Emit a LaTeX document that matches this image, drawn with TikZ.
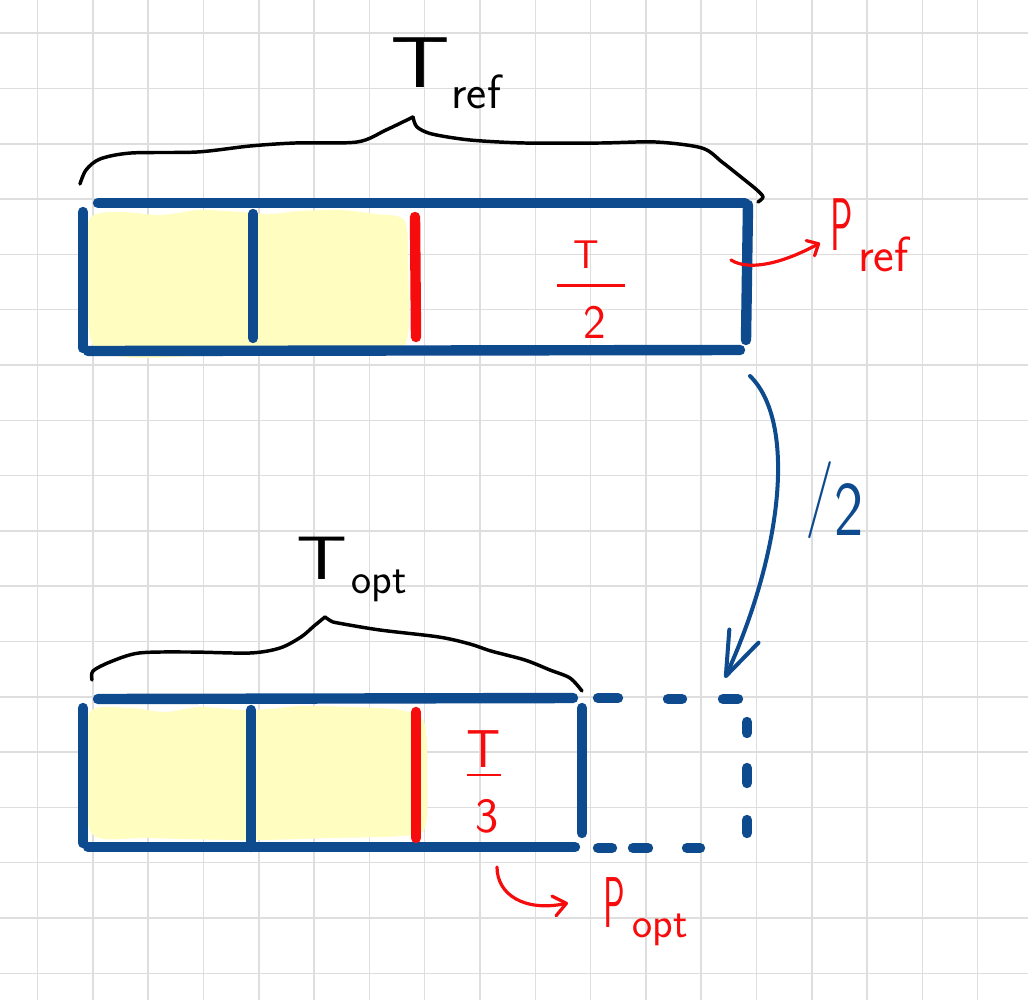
\documentclass[tikz,border=0pt]{standalone}
\usepackage{graphicx}
\usetikzlibrary{arrows.meta}
\definecolor{boxblue}{RGB}{13,74,142}
\definecolor{penred}{RGB}{246,12,12}
\definecolor{hilite}{RGB}{255,253,192}
\definecolor{gridgray}{RGB}{222,222,222}
\begin{document}
\begin{tikzpicture}[x=0.75pt,y=-0.75pt,
  gridline/.style={draw=gridgray,line width=1.1pt},
  boxline/.style={draw=boxblue,line width=7.8pt,line cap=round},
  divred/.style={draw=penred,line width=7.8pt,line cap=round},
  brace/.style={draw=black,line width=2.6pt,line cap=round,line join=round},
  hand/.style={font=\sffamily,inner sep=0pt},
  redarrow/.style={draw=penred,line width=2.4pt,line cap=round,line join=round},
  bluearrow/.style={draw=boxblue,line width=3pt,line cap=round,line join=round},
  highlight/.style={fill=hilite,draw=none}]
\fill[white] (0,0) rectangle (1028,1000);
\useasboundingbox (0,0) rectangle (1028,1000);
% grid
\foreach \i in {0,...,17} {
  \draw[gridline] ({37.6+55.3*\i},0) -- ({37.6+55.3*\i},1000);
  \draw[gridline] (0,{33.2+55.3*\i}) -- (1028,{33.2+55.3*\i});
}
% yellow highlights
\fill[highlight] plot[smooth cycle, tension=0.5] coordinates {
  (90,218) (120,212) (160,215) (200,210) (240,212) (270,214) (300,211) (340,210)
  (375,214) (404,220) (408,260) (407,340) (380,352) (300,354) (200,356) (140,358) (100,352) (89,330) (88,260)};
\fill[highlight] plot[smooth cycle, tension=0.5] coordinates {
  (90,712) (130,708) (165,712) (200,707) (240,710) (270,709) (300,706) (350,707)
  (400,710) (424,722) (427,770) (425,828) (400,836) (330,838) (250,840) (150,838) (92,834) (88,770)};
% top box
\draw[boxline] (98,203) -- (745,203);
\draw[boxline] (748,205) -- (746,340);
\draw[boxline] (88,351) -- (740,350);
\draw[boxline] (83,212) -- (83,348);
\draw[boxline] (253,214) -- (253,338);
\draw[divred] (415,217) -- (416,337);
% bottom box
\draw[boxline] (98,699) -- (573,698);
\draw[boxline] (83,708) -- (83,843);
\draw[boxline] (88,847) -- (575,847);
\draw[boxline] (582,708) -- (582,833);
\draw[boxline] (251,710) -- (251,847);
\draw[divred] (416,712) -- (416,838);
% dashed extension
\draw[boxline] (598,698) -- (618,698) (668,699) -- (682,699) (723,699) -- (738,699)
  (747,722) -- (747,733) (747,768) -- (747,783) (747,820) -- (747,833)
  (598,848) -- (612,848) (633,848) -- (648,848) (687,848) -- (700,848);
% braces
\draw[brace] plot[smooth, tension=0.5] coordinates {
  (80,184) (86,170) (100,159) (131,153) (197,152) (250,146) (295,143) (357,142) (386,130) (413,117)};
\draw[brace] plot[smooth, tension=0.5] coordinates {
  (413,117) (417,127) (432,134) (470,140) (525,143) (600,143) (656,142) (702,148) (722,162) (741,177) (757,190) (763,197) (758,202)};
\draw[brace] plot[smooth, tension=0.5] coordinates {
  (92,680) (93,671) (110,662) (139,653) (190,652) (250,653) (280,648) (301,637) (314,626) (325,617)};
\draw[brace] plot[smooth, tension=0.5] coordinates {
  (325,617) (331,621) (338,623) (380,630) (439,637) (470,644) (491,651) (525,660) (550,670) (570,678) (582,691)};
% labels
\node[hand, anchor=base west] (tref) at (390,87)
  {\fontsize{54}{54}\selectfont\scalebox{1.3}[1]{T}\hspace{1pt}\raisebox{-16pt}{\fontsize{36}{36}\selectfont ref}};
\node[hand, anchor=base west] (topt) at (296,579)
  {\fontsize{46}{46}\selectfont\scalebox{1.3}[1]{T}\hspace{3pt}\raisebox{-11pt}{\fontsize{32}{32}\selectfont opt}};
\node[hand, text=penred, anchor=base west] (pref) at (830,250)
  {\fontsize{56}{56}\selectfont\scalebox{0.5}[1]{P}\hspace{4pt}\raisebox{-16pt}{\fontsize{37}{37}\selectfont ref}};
\node[hand, text=penred, anchor=base west] (popt) at (603,927)
  {\fontsize{54}{54}\selectfont\scalebox{0.5}[1]{P}\hspace{6pt}\raisebox{-8pt}{\fontsize{32}{32}\selectfont opt}};
\node[hand, text=penred, anchor=north] (half) at (591,241)
  {\fontsize{30}{30}\selectfont\vbox{\offinterlineskip
    \hbox to 51pt{\hss T\hskip 7pt\hss}\kern 11pt\hrule height 2.2pt\kern 15pt
    \hbox to 51pt{\hskip 6pt\hss\fontsize{36}{36}\selectfont 2\hss}}};
\node[hand, text=penred, anchor=north] (third) at (484,730)
  {\fontsize{40}{40}\selectfont\vbox{\offinterlineskip
    \hbox to 25pt{\hss T\hss}\kern 4.8pt\hrule height 2.2pt\kern 17pt
    \hbox to 25pt{\hskip 5pt\hss\fontsize{37}{37}\selectfont 3\hss}}};
\node[hand, text=boxblue, anchor=base west] (halflabel) at (805,535)
  {\fontsize{58}{58}\selectfont\scalebox{0.8}[1]{\raisebox{0.2em}{/}2}};
% arrows
\coordinate (prefStart) at (731,260);
\coordinate (prefTip) at (820,243);
\draw[redarrow, -{Straight Barb[length=7pt,width=13pt,round]}]
  (prefStart) .. controls (750,272) and (785,262) .. (prefTip);
\coordinate (poptStart) at (497,867);
\coordinate (poptTip) at (568,903);
\draw[redarrow, -{Straight Barb[length=9.5pt,width=15pt,round]}]
  (poptStart) .. controls (497,895) and (525,912) .. (poptTip);
\coordinate (halfStart) at (750,376);
\coordinate (halfTip) at (725,678);
\draw[bluearrow, -{Straight Barb[length=33pt,width=24pt,round]}]
  (halfStart) .. controls (795,420) and (785,545) .. (halfTip);
\end{tikzpicture}
\end{document}
